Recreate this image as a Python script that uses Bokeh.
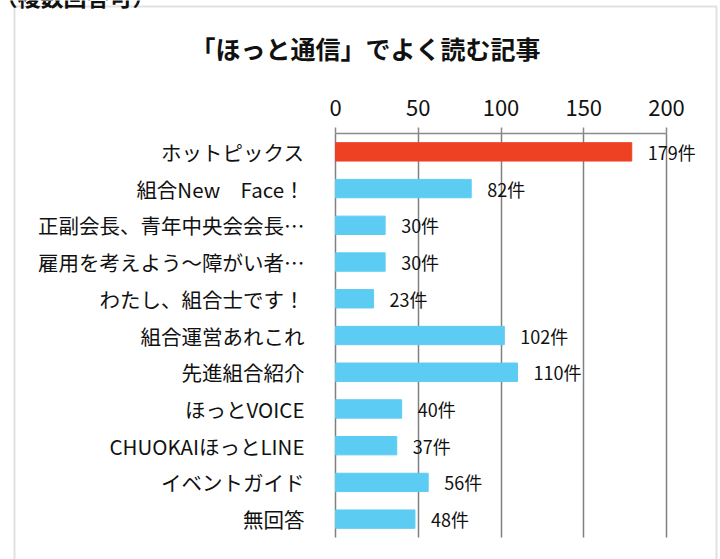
from bokeh.plotting import figure
from bokeh.models import FixedTicker, Label, BoxAnnotation, ColumnDataSource, LabelSet, Range1d
from bokeh.core.properties import value
from bokeh.embed import file_html
from bokeh.resources import INLINE

categories = ["ホットピックス", "組合New　Face！", "正副会長、青年中央会会長…", "雇用を考えよう～障がい者…",
              "わたし、組合士です！", "組合運営あれこれ", "先進組合紹介", "ほっとVOICE",
              "CHUOKAIほっとLINE", "イベントガイド", "無回答"]
values = [179, 82, 30, 30, 23, 102, 110, 40, 37, 56, 48]
value_labels = [f"{v}件" for v in values]
bar_colors = ["#EE4124"] + ["#5DCCF3"] * 10
ticks = [0, 50, 100, 150, 200]
title_text = "「ほっと通信」でよく読む記事"
note_text = "（複数回答可）"

JP = "Noto Sans CJK JP"
W, H = 720, 559

# layout geometry (pixels): plot area 0..200 spans x 335..666, rows span y 133..537
PX0, PX200, PY_TOP, PY_BOT = 335, 666, 133, 537
n = len(categories)
sx = (PX200 - PX0) / 200.0
row = (PY_BOT - PY_TOP) / n
x_start = -PX0 / sx
x_end = (W - PX0) / sx
y_top = -PY_TOP / row - 0.5
y_bot = (H - PY_TOP) / row - 0.5

idx = list(range(n))
src = ColumnDataSource(dict(y=idx, val=values, lab=value_labels, color=bar_colors))

p = figure(width=W, height=H, output_backend="svg", toolbar_location=None,
           x_range=Range1d(x_start, x_end), y_range=Range1d(y_bot, y_top),
           x_axis_location="above", y_axis_location="left",
           min_border=0)
p.outline_line_color = None
p.background_fill_color = "white"
p.border_fill_color = "white"

p.hbar(y="y", right="val", height=0.5, left=0, color="color", source=src)

p.add_layout(LabelSet(x="val", y="y", text="lab", source=src, x_offset=16,
                      text_baseline="middle", text_font=value(JP), text_font_size="18px",
                      text_color="#111111"))

xa = p.xaxis[0]
xa.fixed_location = -0.5
xa.ticker = FixedTicker(ticks=ticks)
xa.bounds = (0, 200)
xa.axis_line_color = "#8a8a8a"
xa.axis_line_width = 1.5
xa.major_tick_line_color = "#8a8a8a"
xa.major_tick_line_width = 1.5
xa.major_tick_out = 6
xa.major_tick_in = 0
xa.minor_tick_line_color = None
xa.major_label_text_font = JP
xa.major_label_text_font_size = "22px"
xa.major_label_text_color = "#111111"
xa.major_label_standoff = 12

ya = p.yaxis[0]
ya.fixed_location = 0
ya.ticker = FixedTicker(ticks=idx)
ya.major_label_overrides = {i: c for i, c in zip(idx, categories)}
ya.axis_line_color = None
ya.major_tick_line_color = None
ya.minor_tick_line_color = None
ya.major_label_standoff = 25
ya.major_label_text_font = JP
ya.major_label_text_font_size = "20.5px"
ya.major_label_text_color = "#111111"

p.xgrid.ticker = FixedTicker(ticks=ticks)
p.xgrid.bounds = (0, 200)
p.xgrid.cross_bounds = (-0.5, n - 0.5)
p.xgrid.grid_line_color = "#808080"
p.xgrid.grid_line_width = 1.5
p.ygrid.grid_line_color = None

p.add_layout(BoxAnnotation(left=14, right=716, top=H - 6, bottom=-20,
                           left_units="screen", right_units="screen",
                           top_units="screen", bottom_units="screen",
                           fill_alpha=0, line_color="#9a9a9a", line_width=2))

p.add_layout(Label(x=365, y=H - 47, x_units="screen", y_units="screen", text=title_text,
                   text_align="center", text_baseline="middle", text_font=JP,
                   text_font_size="25px", text_font_style="bold", text_color="#111111"))
p.add_layout(Label(x=-6, y=H + 5, x_units="screen", y_units="screen", text=note_text,
                   text_align="left", text_baseline="middle", text_font=JP,
                   text_font_size="23px", text_font_style="bold", text_color="#111111"))

open("out.html", "w").write(file_html(p, INLINE))
